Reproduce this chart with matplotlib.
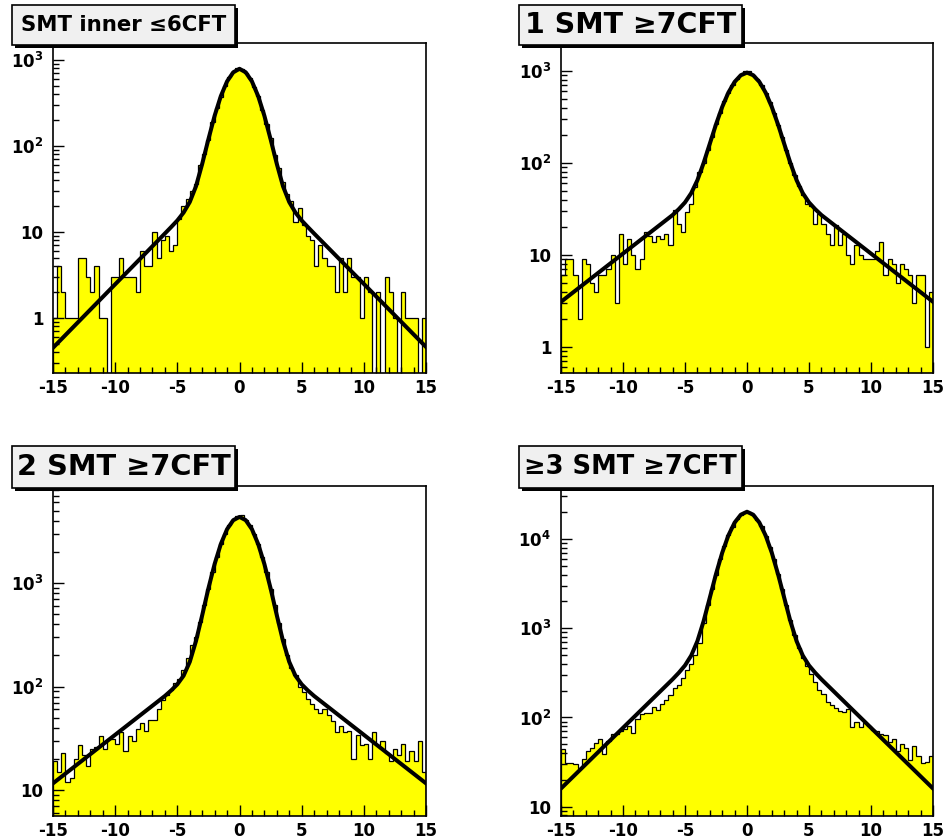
import numpy as np
import matplotlib
matplotlib.use("Agg")
import matplotlib.pyplot as plt
from matplotlib.patches import Rectangle
from matplotlib.ticker import LogLocator, MultipleLocator, FuncFormatter, NullFormatter

plt.rcParams['font.family'] = ['DejaVu Sans']
plt.rcParams['font.weight'] = 'bold'
plt.rcParams['mathtext.default'] = 'bf'
plt.rcParams['axes.unicode_minus'] = False

W, H = 943, 839

# 90 bins from -15 to 15
edges = np.linspace(-15, 15, 91)

titles = ["SMT inner \u22646CFT", "1 SMT \u22657CFT", "2 SMT \u22657CFT", "\u22653 SMT \u22657CFT"]

counts_inner6 = [
    1, 4, 2, 1, 1, 1, 5, 5, 3, 2, 4, 1, 1, 0, 3, 3, 5, 3, 3, 3,
    2, 6, 4, 4, 10, 5, 8, 9, 6, 7, 14, 20, 24, 30, 36, 60, 80, 118, 190, 280,
    375, 500, 630, 720, 800, 790, 715, 610, 480, 385, 265, 180, 125, 78, 55, 38, 28, 23, 13, 19,
    12, 9, 8, 4, 7, 5, 4, 4, 2, 5, 2, 5, 3, 3, 1, 3, 2, 0, 2, 0,
    3, 2, 1, 0, 2, 1, 1, 1, 0, 1]

counts_1smt = [
    6, 9, 9, 6, 2, 9, 8, 5, 4, 6, 6, 7, 10, 3, 17, 8, 15, 10, 7, 9,
    18, 16, 14, 16, 15, 17, 13, 31, 22, 18, 29, 36, 55, 80, 100, 140, 190, 265, 350, 470,
    580, 710, 810, 905, 1010, 990, 900, 810, 700, 575, 465, 350, 260, 190, 140, 100, 74, 56, 45, 36,
    34, 22, 28, 22, 17, 13, 21, 13, 17, 10, 8, 13, 10, 9, 9, 9, 11, 14, 6, 9,
    8, 5, 8, 7, 6, 3, 6, 6, 1, 4]

counts_2smt = [
    19, 15, 23, 12, 13, 20, 27, 22, 17, 25, 26, 33, 25, 31, 31, 28, 36, 24, 33, 30,
    39, 44, 37, 47, 47, 61, 74, 82, 92, 107, 119, 144, 187, 250, 300, 420, 610, 880, 1270, 1800,
    2400, 3000, 3600, 4050, 4450, 4500, 4080, 3620, 3000, 2380, 1800, 1290, 880, 610, 410, 290, 200, 150, 128, 99,
    89, 76, 68, 61, 56, 61, 53, 46, 36, 42, 36, 37, 20, 34, 27, 28, 20, 36, 27, 30,
    23, 19, 25, 22, 28, 19, 24, 19, 30, 15]

counts_3smt = [
    44, 31, 31, 30, 27, 34, 42, 46, 52, 58, 39, 55, 66, 66, 70, 75, 81, 67, 95, 110,
    112, 112, 130, 122, 142, 155, 180, 213, 233, 276, 337, 401, 500, 680, 1150, 1800, 2750, 4000, 5900, 8300,
    11000, 13800, 16600, 18800, 20300, 20100, 18700, 16500, 13900, 10900, 8200, 5900, 4100, 2750, 1800, 1230, 850, 600, 470, 380,
    309, 253, 201, 184, 151, 139, 127, 117, 115, 125, 78, 90, 78, 87, 81, 73, 70, 66, 63, 53,
    57, 42, 50, 45, 33, 48, 37, 31, 32, 37]

# fitted curve
fit_x = [-15, -6, -5.5, -5, -4.5, -4, -3.5, -3, -2.5, -2, -1.5, -1, -0.5, 0,
         0.5, 1, 1.5, 2, 2.5, 3, 3.5, 4, 4.5, 5, 5.5, 6, 15]
fit_inner6 = [0.45, 9.6, 11.4, 13.6, 16.8, 22.3, 34, 62, 120, 225, 381, 564, 720, 790,
              720, 564, 381, 225, 120, 62, 34, 22.3, 16.8, 13.6, 11.4, 9.6, 0.46]
fit_1smt = [3.1, 27.2, 31.5, 37.3, 47, 65, 100, 162, 263, 407, 583, 761, 900, 960,
            900, 761, 583, 407, 263, 162, 100, 65, 47, 37.3, 31.5, 27.2, 3.1]
fit_2smt = [11.6, 81, 91.5, 105, 127, 173, 275, 488, 888, 1526, 2383, 3308, 4046, 4348,
            4046, 3308, 2383, 1526, 888, 488, 275, 173, 127, 105, 91.5, 81, 11.6]
fit_3smt = [16, 268, 317, 383, 494, 717, 1199, 2199, 4053, 7010, 10970, 15255, 18710, 20200,
            18710, 15255, 10970, 7010, 4053, 2199, 1199, 717, 494, 383, 317, 268, 16]

all_counts = [counts_inner6, counts_1smt, counts_2smt, counts_3smt]
all_fits = [fit_inner6, fit_1smt, fit_2smt, fit_3smt]
ylims = [(0.229, 1577), (0.522, 2015), (5.61, 8650), (7.87, 39260)]

# layout in pixels: axes (left, top, right, bottom), title box (left, top, right, bottom)
axes_px = [(53, 43, 426, 373), (561, 43, 933, 373), (53, 486, 426, 816), (561, 486, 933, 816)]
box_px = [(12, 5, 235, 45), (519, 5, 742, 45), (12, 446, 235, 488), (519, 446, 742, 488)]
title_sizes = [15.3, 20.5, 20.8, 18.5]


def fx(px):
    return px / W


def fy(py):
    return 1 - py / H


def ylabel(v, pos):
    if v <= 0:
        return ""
    e = int(round(np.log10(v)))
    if abs(v - 10 ** e) > 1e-6 * v:
        return ""
    if e == 0:
        return "1"
    if e == 1:
        return "10"
    return r"$\mathbf{10^{%d}}$" % e


fig = plt.figure(figsize=(W / 100, H / 100), dpi=100)

for i in range(4):
    l, t, r, b = axes_px[i]
    ax = fig.add_axes([fx(l), fy(b), (r - l) / W, (b - t) / H])
    ax.set_yscale('log')
    ax.stairs(all_counts[i], edges, baseline=1e-4, fill=True, color='#ffff00', lw=0)
    ax.stairs(all_counts[i], edges, baseline=1e-4, color='black', lw=0.9)
    ax.plot(fit_x, all_fits[i], color='black', lw=2.9, solid_joinstyle='round', zorder=5)
    ax.set_xlim(-15, 15)
    ax.set_ylim(*ylims[i])

    ax.xaxis.set_major_locator(MultipleLocator(5))
    ax.xaxis.set_minor_locator(MultipleLocator(1))
    ax.yaxis.set_major_locator(LogLocator(base=10, numticks=10))
    ax.yaxis.set_minor_locator(LogLocator(base=10, subs=np.arange(2, 10), numticks=20))
    ax.yaxis.set_major_formatter(FuncFormatter(ylabel))
    ax.yaxis.set_minor_formatter(NullFormatter())
    ax.tick_params(which='both', direction='in', top=False, right=False, width=1)
    ax.tick_params(which='major', length=8, labelsize=12)
    ax.tick_params(which='minor', length=4.5)
    ax.tick_params(axis='y', which='major', pad=7)
    ax.tick_params(axis='x', which='major', pad=4)
    for s in ax.spines.values():
        s.set_linewidth(1.2)

    # title pave with shadow
    bl, bt, br, bb = box_px[i]
    fig.add_artist(Rectangle((fx(bl + 3), fy(bb + 3)), (br - bl) / W, (bb - bt) / H,
                             transform=fig.transFigure, facecolor='black', edgecolor='none'))
    fig.add_artist(Rectangle((fx(bl), fy(bb)), (br - bl) / W, (bb - bt) / H,
                             transform=fig.transFigure, facecolor='#f0f0f0', edgecolor='black', lw=1.2))
    fig.text(fx((bl + br) / 2), fy((bt + bb) / 2), titles[i], ha='center', va='center',
             fontsize=title_sizes[i], fontweight='bold')

fig.savefig("out.png", dpi=100)
